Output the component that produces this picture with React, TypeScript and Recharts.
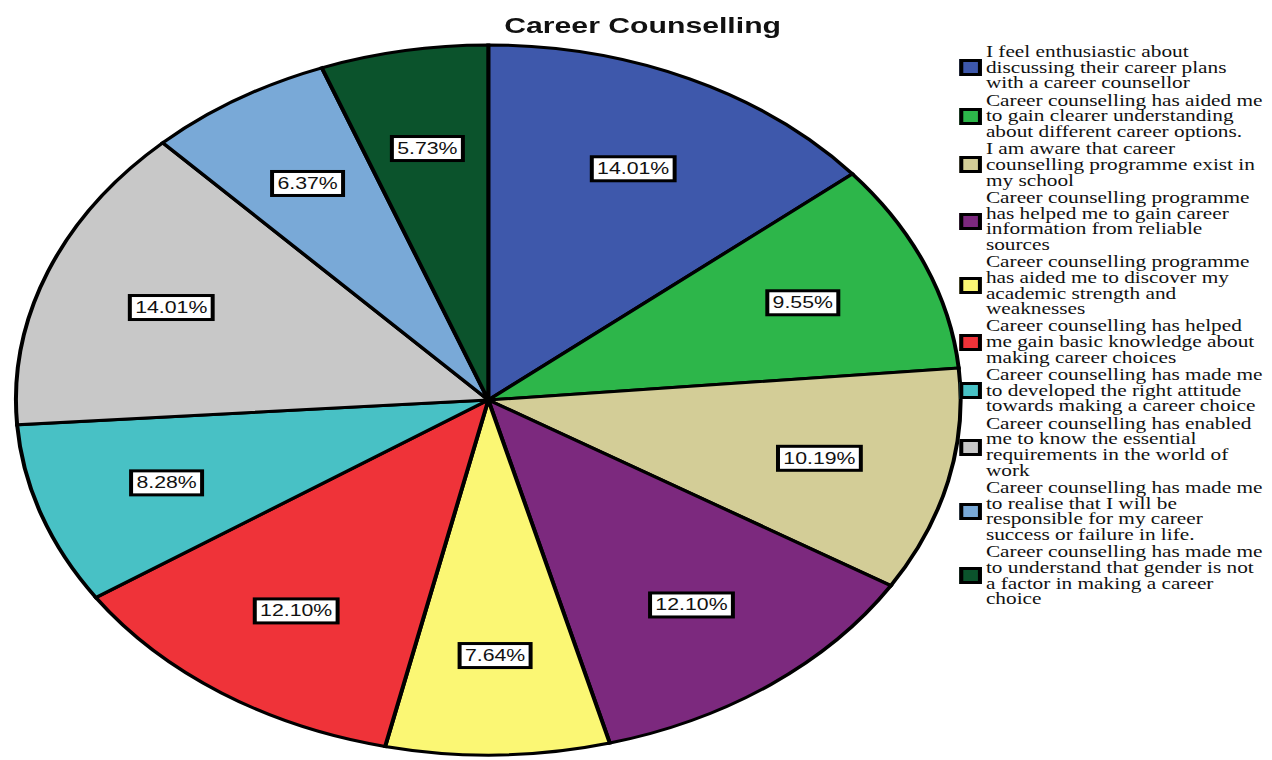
import React from 'react';
import { PieChart, Pie, Cell, Legend } from 'recharts';

// categories (legend text, line breaks as in the original)
const categories = [
  'I feel enthusiastic about\ndiscussing their career plans\nwith a career counsellor',
  'Career counselling has aided me\nto gain clearer understanding\nabout different career options.',
  'I am aware that career\ncounselling programme exist in\nmy school',
  'Career counselling programme\nhas helped me to gain career\ninformation from reliable\nsources',
  'Career counselling programme\nhas aided me to discover my\nacademic strength and\nweaknesses',
  'Career counselling has helped\nme gain basic knowledge about\nmaking career choices',
  'Career counselling has made me\nto developed the right attitude\ntowards making a career choice',
  'Career counselling has enabled\nme to know the essential\nrequirements in the world of\nwork',
  'Career counselling has made me\nto realise that I will be\nresponsible for my career\nsuccess or failure in life.',
  'Career counselling has made me\nto understand that gender is not\na factor in making a career\nchoice',
];

// response counts (n = 157)
const counts = [22, 15, 16, 19, 12, 19, 13, 22, 10, 9];

const colors = [
  '#3e58ab', '#2db64a', '#d3cd97', '#7c297e', '#fbf774',
  '#ef3339', '#48c1c5', '#c8c8c8', '#79a9d7', '#0b532c',
];

const total = counts.reduce((a, b) => a + b, 0);
const chartData = categories.map((name, i) => ({ name, value: counts[i] }));

// the original picture is stretched horizontally; draw compressed and scale
const SX = 1.3305;
const W = 956;
const H = 760;
const RAD = Math.PI / 180;

const charW: Record<string, number> = { '.': 0.278, '%': 0.889 };

const renderLabel = (props: any) => {
  const { cx, cy, midAngle, outerRadius, value } = props;
  const r = outerRadius * 0.72;
  const x = cx + r * Math.cos(-midAngle * RAD);
  const y = cy + r * Math.sin(-midAngle * RAD);
  const txt = ((value / total) * 100).toFixed(2) + '%';
  const fs = 16;
  let tw = 0;
  for (const c of txt) tw += (charW[c] ?? 0.556) * fs;
  const bw = tw + 8;
  const bh = 24;
  return (
    <g>
      <rect x={x - bw / 2} y={y - bh / 2} width={bw} height={bh} fill="#fff" stroke="#000" strokeWidth={3} />
      <text
        x={x}
        y={y}
        textAnchor="middle"
        dominantBaseline="central"
        fontFamily="Liberation Sans, Arial, sans-serif"
        fontSize={fs}
        fill="#111"
      >
        {txt}
      </text>
    </g>
  );
};

const renderLegend = () => (
  <div style={{ fontFamily: '"Liberation Serif", "Times New Roman", serif', fontSize: 16, lineHeight: '15.7px', color: '#111' }}>
    {categories.map((c, i) => (
      <div key={`lg-${i}`} style={{ display: 'flex', alignItems: 'center', marginBottom: 1.5 }}>
        <div style={{
          width: 17,
          height: 17,
          boxSizing: 'border-box',
          border: '3px solid #000',
          backgroundColor: colors[i],
          flexShrink: 0,
          marginRight: 3,
        }} />
        <div style={{ whiteSpace: 'pre' }}>{c}</div>
      </div>
    ))}
  </div>
);

const App: React.FC = () => {
  return (
    <div style={{
      position: 'absolute',
      left: 0,
      top: 0,
      width: W,
      height: H,
      transform: `scaleX(${SX})`,
      transformOrigin: '0 0',
      background: '#fff',
    }}>
      <div style={{
        position: 'absolute',
        left: 0,
        top: 12,
        width: 966,
        textAlign: 'center',
        fontFamily: '"Liberation Sans", Arial, sans-serif',
        fontWeight: 'bold',
        fontSize: 22.7,
        color: '#111',
        zIndex: 2,
      }}>
        Career Counselling
      </div>
      <PieChart width={W} height={H} margin={{ top: 0, right: 0, bottom: 0, left: 0 }}>
        <Pie
          data={chartData}
          dataKey="value"
          nameKey="name"
          cx={367}
          cy={400}
          outerRadius={355}
          startAngle={90}
          endAngle={-270}
          stroke="#000"
          strokeWidth={3}
          label={renderLabel}
          labelLine={false}
          isAnimationActive={false}
        >
          {chartData.map((entry, index) => (
            <Cell key={`cell-${index}`} fill={colors[index]} />
          ))}
        </Pie>
        <Legend
          layout="vertical"
          verticalAlign="top"
          align="right"
          content={renderLegend}
          wrapperStyle={{ position: 'absolute', left: 721, top: 44, width: 235 }}
        />
      </PieChart>
    </div>
  );
};

export default App;
